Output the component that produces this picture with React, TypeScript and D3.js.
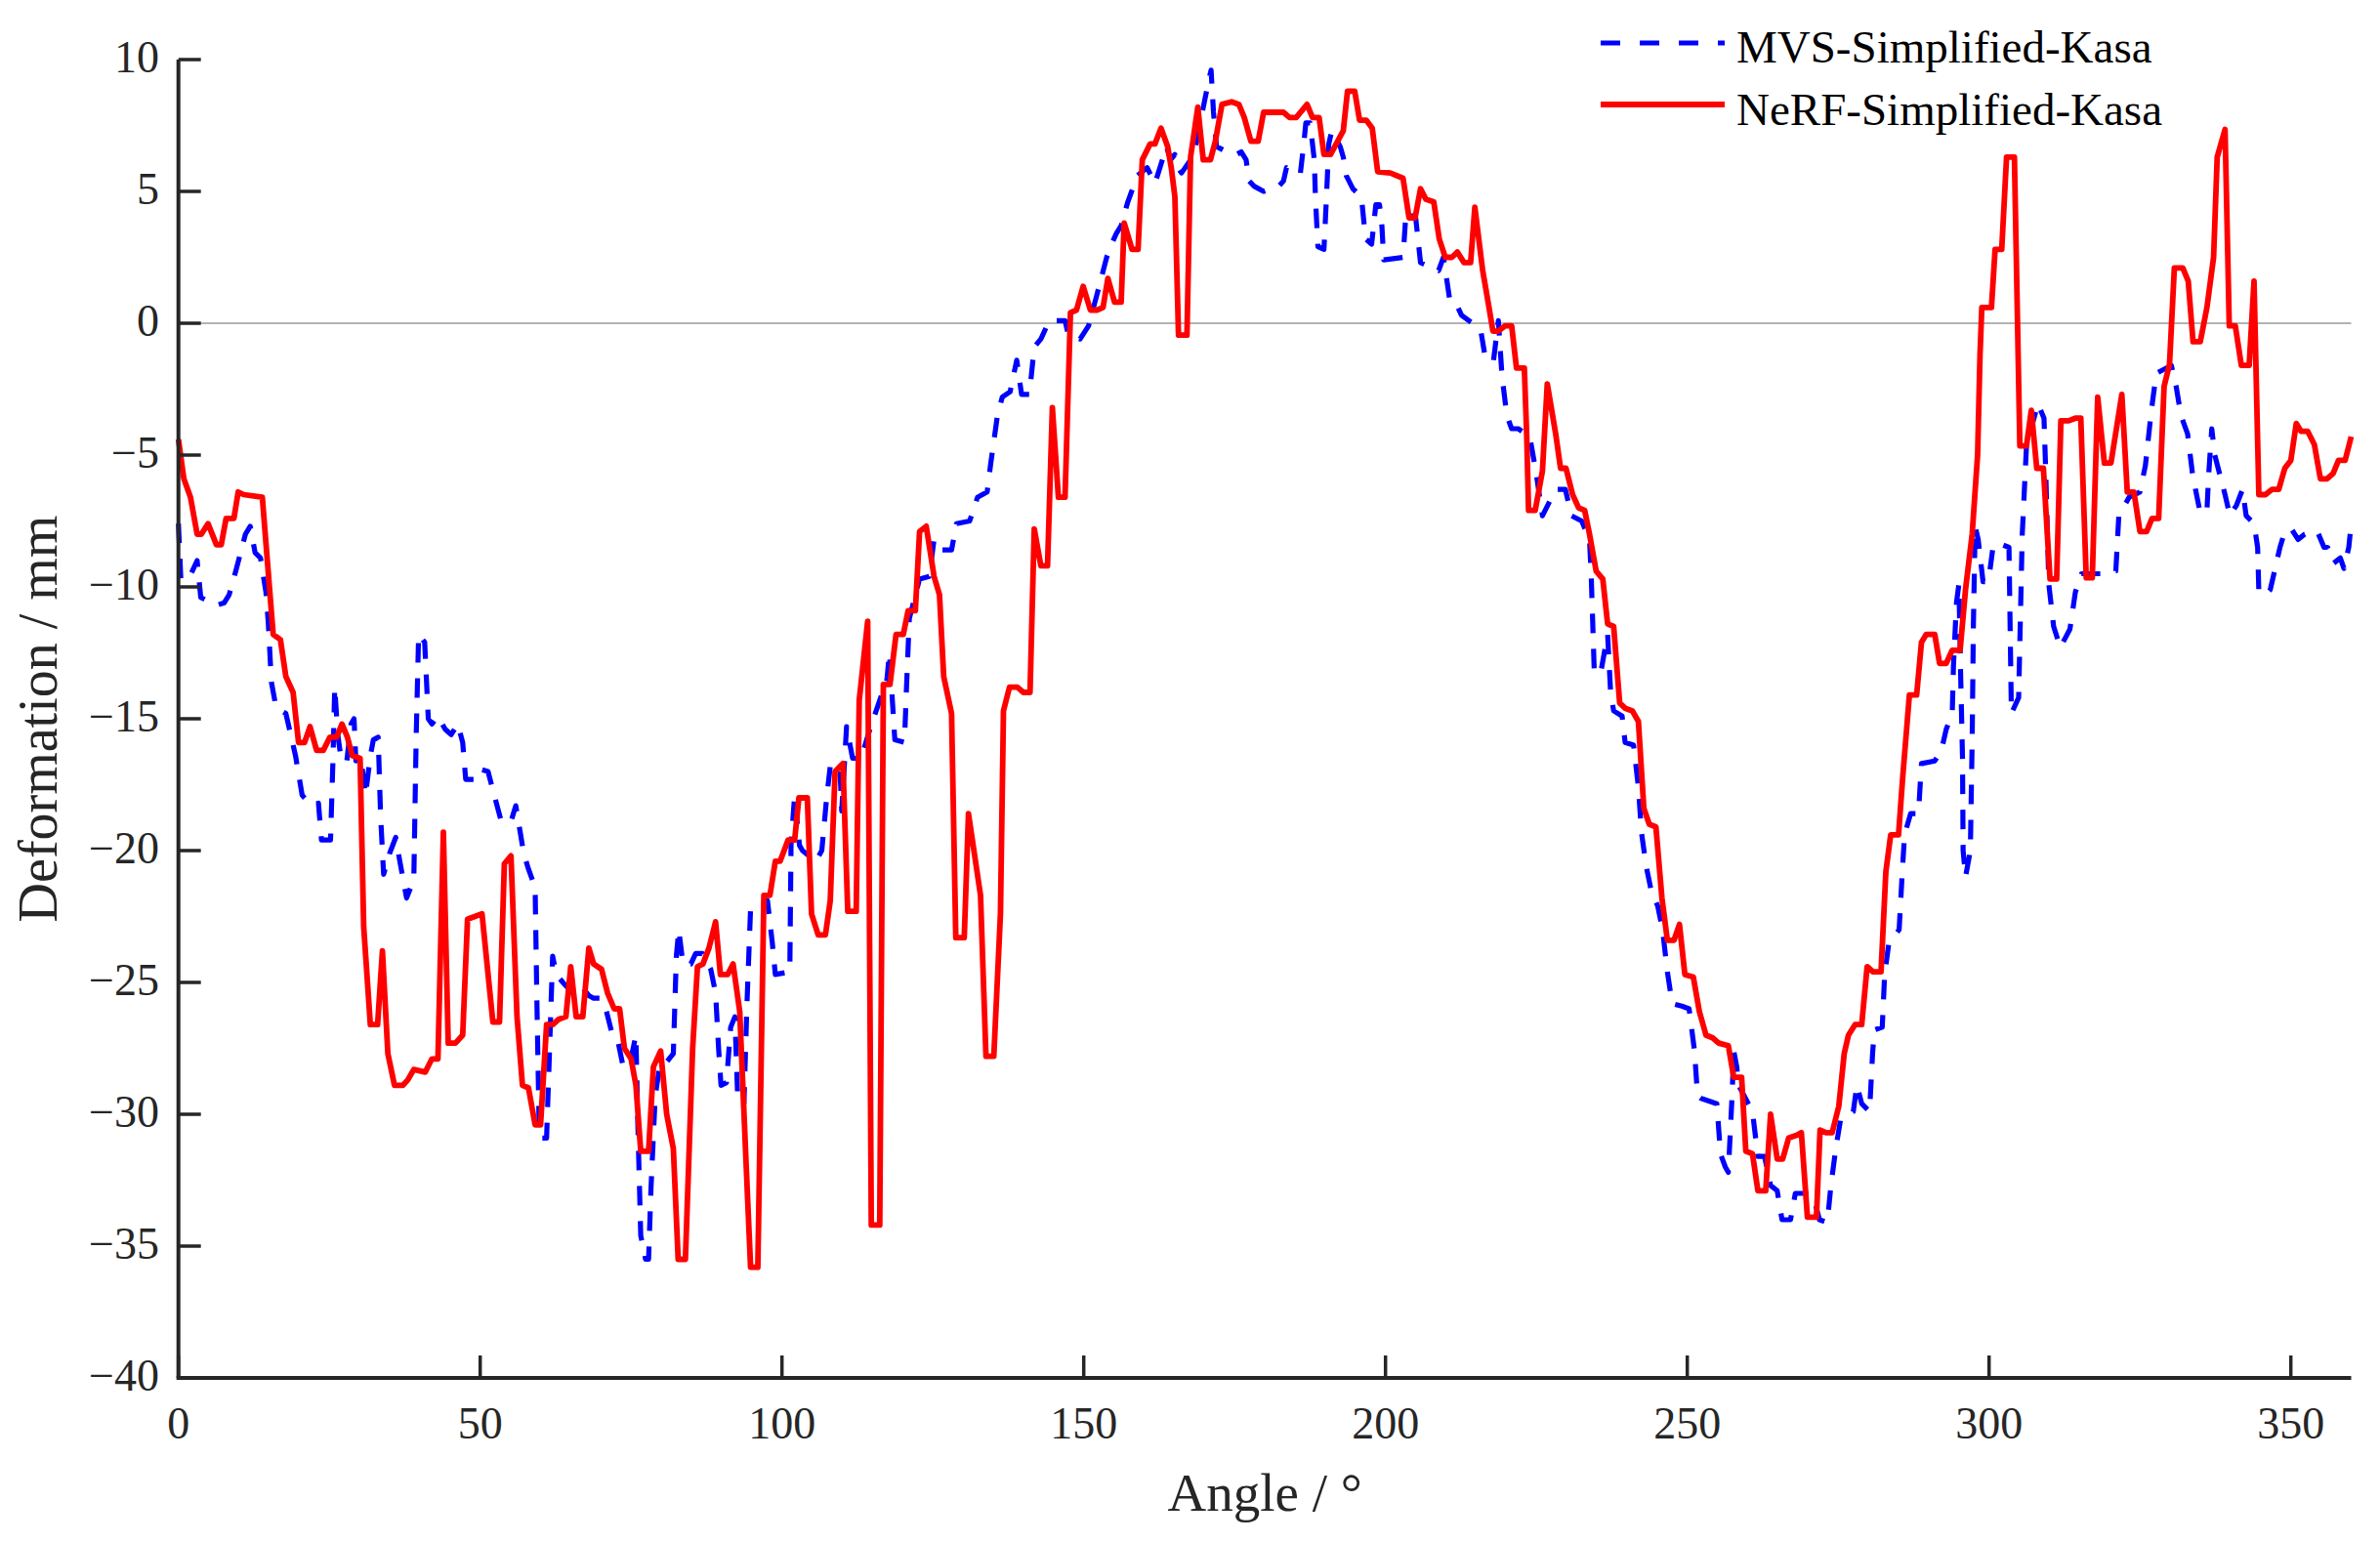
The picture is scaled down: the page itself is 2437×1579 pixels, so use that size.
import { useEffect } from 'react';
import * as d3 from 'd3';

type Pt = [number, number];

// MVS-Simplified-Kasa (blue, dashed): [angle, deformation]
const mvsSeries: Pt[] = [
  [0, -7.6], [0.4, -9.7], [1.7, -9.7], [3.1, -9.0], [3.7, -10.4], [6.3, -10.7], [7.6, -10.6], [8.4, -10.3],
  [9.5, -9.4], [10.3, -8.7], [11.1, -8.0], [11.9, -7.7], [12.7, -8.7], [13.6, -8.9], [14.5, -10.2], [14.9, -11.4],
  [15.4, -13.6], [16.2, -14.6], [17.8, -14.8], [18.6, -15.6], [19.4, -16.4], [20.5, -17.9], [22.1, -18.3], [23.2, -18.2],
  [23.7, -19.6], [25.2, -19.6], [25.6, -16.6], [25.9, -13.8], [26.4, -15.6], [27.0, -16.6], [27.9, -16.6], [28.6, -15.2],
  [29.1, -15.0], [29.4, -16.6], [30.2, -16.4], [31.0, -17.9], [31.8, -16.4], [32.3, -15.8], [33.1, -15.7], [33.5, -18.7],
  [34.0, -20.9], [35.0, -20.1], [36.0, -19.5], [36.6, -20.3], [37.8, -21.8], [39.0, -21.1], [39.4, -15.6], [39.8, -11.8],
  [40.8, -12.1], [41.4, -15.0], [42.0, -15.2], [43.0, -14.9], [44.2, -15.4], [45.2, -15.6], [46.3, -15.2], [47.1, -15.9],
  [47.6, -17.3], [49.0, -17.3], [49.8, -16.9], [51.3, -17.0], [52.1, -17.7], [53.5, -18.9], [55.1, -18.9], [55.9, -18.3],
  [56.7, -19.4], [57.2, -20.1], [58.0, -20.7], [59.1, -21.4], [59.4, -25.8], [59.8, -30.9], [61.0, -30.9], [61.5, -27.5],
  [62.0, -24.0], [62.6, -24.7], [63.7, -25.0], [65.3, -25.4], [66.6, -25.1], [68.0, -25.5], [68.8, -25.6], [69.9, -25.6],
  [70.7, -25.9], [71.8, -26.9], [72.8, -27.2], [73.6, -28.1], [74.7, -28.2], [75.8, -27.0], [76.1, -30.2], [76.6, -34.6],
  [77.4, -35.5], [77.9, -35.5], [78.3, -32.8], [79.0, -29.3], [79.8, -28.1], [80.6, -28.1], [82.0, -27.7], [82.5, -24.0],
  [82.9, -23.0], [83.6, -24.3], [84.9, -24.3], [85.7, -23.9], [86.8, -23.9], [88.2, -24.5], [89.0, -25.4], [89.5, -27.5],
  [89.9, -28.9], [90.8, -28.8], [91.5, -26.7], [92.2, -26.3], [92.7, -29.6], [93.7, -29.6], [94.2, -25.8], [94.8, -22.2],
  [96.5, -22.1], [97.6, -21.9], [98.4, -23.5], [98.9, -24.7], [101.3, -24.6], [101.5, -19.8], [102.1, -17.9], [102.9, -19.8],
  [103.4, -20.0], [105.6, -20.4], [106.6, -20.0], [107.4, -18.0], [108.0, -16.8], [109.6, -16.8], [109.9, -18.5], [110.7, -15.3],
  [111.7, -16.5], [113.1, -16.5], [114.7, -15.3], [117.4, -13.5], [117.8, -12.5], [118.7, -15.8], [120.3, -15.9], [120.6, -14.0],
  [121.1, -11.2], [122.8, -9.7], [124.4, -9.6], [125.2, -8.2], [126.5, -8.6], [128.1, -8.6], [128.9, -7.6], [131.1, -7.5],
  [132.4, -6.6], [134.0, -6.4], [134.6, -5.3], [135.7, -3.5], [136.5, -2.8], [137.8, -2.6], [138.9, -1.4], [139.7, -2.7],
  [141.0, -2.7], [141.8, -0.9], [142.9, -0.6], [144.3, 0.1], [146.9, 0.1], [147.5, -0.5], [149.4, -0.6], [150.8, -0.1],
  [152.2, 1.1], [153.0, 1.8], [153.8, 2.5], [154.6, 3.0], [155.4, 3.4], [156.2, 3.7], [157.3, 4.6], [158.1, 5.1],
  [158.9, 5.6], [160.5, 5.9], [161.8, 5.3], [162.9, 6.1], [163.7, 6.7], [164.4, 6.2], [165.1, 6.4], [165.6, 5.9],
  [166.2, 5.7], [167.7, 6.2], [168.7, 6.9], [169.9, 8.3], [170.7, 9.2], [171.1, 9.6], [171.5, 8.0], [172.0, 6.7],
  [173.7, 6.5], [175.3, 6.4], [176.1, 6.5], [176.9, 6.2], [177.4, 5.4], [178.2, 5.2], [179.8, 5.0], [180.9, 5.1],
  [182.3, 5.2], [183.1, 5.4], [183.6, 5.9], [184.7, 5.7], [185.9, 5.7], [186.5, 6.9], [186.8, 7.6], [187.5, 7.6],
  [188.2, 6.2], [188.4, 4.7], [188.8, 2.9], [189.8, 2.8], [190.2, 4.7], [190.6, 6.8], [191.1, 7.3], [192.5, 6.7],
  [193.0, 6.3], [193.5, 5.6], [194.6, 5.1], [196.0, 4.8], [196.7, 3.2], [197.7, 3.0], [198.4, 4.5], [199.0, 4.5],
  [199.4, 3.7], [199.7, 2.4], [202.9, 2.5], [203.4, 4.2], [205.0, 4.0], [205.8, 2.3], [208.8, 2.0], [209.6, 2.5],
  [210.7, 0.8], [211.8, 0.7], [212.6, 0.3], [215.0, -0.1], [215.8, -0.3], [216.6, -1.4], [217.9, -1.4], [218.7, 0.1],
  [219.3, -2.0], [220.1, -3.5], [220.9, -4.0], [222.0, -4.0], [223.9, -4.3], [224.9, -5.6], [226.0, -7.3], [227.1, -6.8],
  [228.2, -6.3], [229.8, -6.3], [230.8, -7.3], [232.5, -7.5], [233.8, -8.2], [234.1, -9.7], [234.6, -13.3], [235.7, -13.2],
  [236.8, -11.8], [237.3, -14.0], [237.8, -14.7], [239.2, -14.9], [239.7, -15.9], [241.1, -16.0], [241.9, -17.6], [242.4, -19.3],
  [243.2, -20.6], [244.0, -21.5], [245.1, -22.1], [245.9, -23.0], [246.7, -24.6], [247.5, -25.8], [249.1, -25.9], [250.3, -26.0],
  [251.2, -27.6], [251.7, -29.3], [252.3, -29.4], [254.9, -29.6], [255.5, -31.5], [256.3, -32.0], [256.8, -32.2], [257.4, -29.4],
  [257.7, -27.6], [258.2, -28.2], [258.5, -28.9], [260.8, -29.9], [261.7, -31.6], [262.8, -31.6], [263.8, -32.7], [264.9, -32.9],
  [265.4, -33.6], [265.7, -34.0], [267.1, -34.0], [267.9, -33.0], [270.3, -33.0], [271.1, -33.3], [271.9, -34.0], [273.2, -34.1],
  [273.8, -32.7], [274.6, -31.3], [275.4, -30.2], [276.5, -30.1], [277.5, -29.9], [278.1, -28.9], [278.9, -29.6], [280.2, -29.9],
  [280.7, -27.7], [281.0, -26.8], [282.3, -26.7], [282.7, -24.7], [283.4, -23.5], [285.1, -23.0], [285.6, -20.9], [286.0, -19.4],
  [287.0, -18.6], [288.3, -18.6], [288.8, -16.7], [291.0, -16.6], [292.1, -16.2], [292.9, -15.4], [293.9, -14.8], [294.1, -13.0],
  [294.6, -10.6], [295.0, -9.9], [295.3, -13.4], [295.6, -16.5], [295.7, -20.0], [296.1, -21.0], [296.9, -20.0], [297.2, -15.8],
  [297.4, -11.5], [297.7, -7.7], [298.2, -8.2], [299.0, -9.8], [299.9, -9.8], [300.7, -8.4], [302.2, -8.4], [303.3, -8.5],
  [303.7, -14.8], [304.9, -14.2], [305.5, -8.0], [306.2, -4.65], [308.1, -3.05], [309.1, -3.6], [309.4, -5.7], [309.9, -9.9],
  [310.7, -11.5], [311.8, -12.3], [313.4, -11.6], [314.3, -10.2], [315.3, -9.5], [318.8, -9.5], [321.0, -9.4], [321.5, -7.3],
  [323.2, -6.6], [325.0, -6.4], [325.9, -5.4], [326.9, -3.3], [327.7, -1.9], [330.2, -1.6], [331.0, -2.4], [331.8, -3.5],
  [332.9, -4.2], [333.7, -5.7], [334.2, -6.3], [335.0, -7.2], [336.1, -7.1], [336.4, -5.7], [336.9, -4.0], [337.4, -5.0],
  [338.3, -5.8], [339.1, -6.5], [339.9, -7.3], [341.0, -6.9], [342.0, -6.3], [342.6, -7.3], [343.9, -7.6], [344.5, -8.5],
  [344.7, -10.2], [345.8, -10.3], [346.6, -10.1], [347.4, -9.3], [348.2, -8.5], [349.0, -7.9], [350.1, -7.8], [351.2, -8.2],
  [352.3, -8.0], [353.6, -7.9], [354.4, -7.9], [355.5, -8.5], [356.1, -8.5], [357.1, -9.1], [358.2, -8.9], [358.8, -9.3],
  [359.6, -8.5], [360.0, -7.6],
];

// NeRF-Simplified-Kasa (red, solid): [angle, deformation]
const nerfSeries: Pt[] = [
  [0, -4.4], [0.9, -5.9], [2.0, -6.6], [3.1, -8.0], [3.8, -8.0], [4.9, -7.6], [6.3, -8.4], [7.1, -8.4],
  [7.9, -7.4], [9.2, -7.4], [9.9, -6.4], [10.8, -6.5], [13.9, -6.6], [15.7, -11.8], [16.9, -12.0], [17.8, -13.4],
  [19.0, -14.0], [19.9, -15.9], [20.9, -15.9], [21.8, -15.3], [22.9, -16.2], [24.0, -16.2], [25.1, -15.7], [26.2, -15.7],
  [27.1, -15.2], [28.0, -15.7], [28.8, -16.4], [30.1, -16.5], [30.7, -22.9], [31.8, -26.6], [33.0, -26.6], [33.8, -23.8],
  [34.7, -27.7], [35.8, -28.9], [37.2, -28.9], [38.0, -28.7], [39.0, -28.3], [40.9, -28.4], [42.0, -27.9], [43.0, -27.9],
  [43.9, -19.3], [44.7, -27.3], [45.9, -27.3], [47.1, -27.0], [47.9, -22.6], [50.3, -22.4], [52.1, -26.5], [53.2, -26.5],
  [54.0, -20.5], [55.1, -20.2], [56.1, -26.3], [57.0, -28.9], [58.0, -29.0], [59.1, -30.4], [60.0, -30.4], [61.0, -26.6],
  [62.0, -26.6], [63.0, -26.4], [64.2, -26.3], [65.0, -24.4], [65.9, -26.3], [67.0, -26.3], [68.0, -23.7], [68.8, -24.3],
  [70.1, -24.5], [71.1, -25.4], [72.2, -26.0], [73.1, -26.0], [73.9, -27.5], [75.0, -27.9], [75.8, -28.9], [76.6, -31.4],
  [77.9, -31.4], [78.7, -28.2], [79.9, -27.6], [80.9, -30.0], [82.0, -31.3], [82.8, -35.5], [84.0, -35.5], [85.2, -27.5],
  [86.0, -24.4], [86.9, -24.3], [87.9, -23.7], [89.0, -22.7], [89.8, -24.7], [91.0, -24.7], [91.9, -24.3], [93.0, -26.1],
  [94.1, -32.1], [94.8, -35.8], [96.0, -35.8], [97.0, -21.7], [98.0, -21.7], [98.9, -20.4], [99.7, -20.4], [101.0, -19.6],
  [102.1, -19.6], [102.8, -18.0], [104.2, -18.0], [104.9, -22.4], [106.0, -23.2], [107.2, -23.2], [108.0, -21.9], [108.8, -17.0],
  [110.1, -16.7], [110.9, -22.3], [112.3, -22.3], [112.8, -14.3], [114.2, -11.3], [114.8, -34.2], [116.2, -34.2], [116.8, -13.7],
  [117.9, -13.7], [118.9, -11.8], [120.1, -11.8], [120.9, -10.9], [122.1, -10.9], [122.8, -7.9], [123.9, -7.7], [125.2, -9.6],
  [126.1, -10.3], [126.8, -13.4], [128.1, -14.8], [128.8, -23.3], [130.2, -23.3], [130.9, -18.6], [132.9, -21.7], [133.8, -27.8],
  [135.1, -27.8], [136.2, -22.4], [136.7, -14.7], [137.7, -13.8], [139.0, -13.8], [140.0, -14.0], [141.1, -14.0], [141.8, -7.8],
  [142.9, -9.2], [144.0, -9.2], [144.8, -3.2], [145.8, -6.6], [146.9, -6.6], [147.8, 0.4], [148.8, 0.5], [149.9, 1.4],
  [151.1, 0.5], [152.2, 0.5], [153.2, 0.6], [154.0, 1.7], [155.1, 0.8], [156.2, 0.8], [156.7, 3.8], [158.0, 2.8],
  [159.0, 2.8], [159.7, 6.2], [161.0, 6.8], [161.8, 6.8], [162.8, 7.4], [163.9, 6.7], [164.5, 5.9], [165.1, 4.8],
  [165.7, -0.45], [167.1, -0.45], [167.7, 6.3], [168.9, 8.2], [169.8, 6.2], [171.0, 6.2], [171.8, 6.9], [172.9, 8.3],
  [174.5, 8.4], [175.7, 8.3], [176.6, 7.8], [177.7, 6.9], [178.9, 6.9], [179.8, 8.0], [183.1, 8.0], [184.1, 7.8],
  [185.2, 7.8], [187.0, 8.3], [187.9, 7.8], [189.0, 7.8], [189.8, 6.4], [190.9, 6.4], [193.0, 7.3], [193.7, 8.8],
  [194.9, 8.8], [195.7, 7.7], [196.8, 7.7], [197.8, 7.4], [198.7, 5.75], [200.8, 5.7], [202.9, 5.5], [203.9, 4.0],
  [204.9, 4.0], [205.8, 5.1], [206.7, 4.7], [208.0, 4.6], [208.9, 3.2], [209.9, 2.5], [211.0, 2.5], [211.9, 2.7],
  [213.0, 2.3], [214.1, 2.3], [214.8, 4.4], [216.1, 2.0], [217.0, 0.8], [217.8, -0.3], [218.7, -0.3], [219.8, -0.1],
  [220.9, -0.1], [221.7, -1.7], [223.0, -1.7], [223.4, -4.3], [223.7, -7.1], [224.8, -7.1], [226.0, -5.6], [226.8, -2.3],
  [228.2, -4.2], [229.0, -5.5], [229.9, -5.5], [231.0, -6.5], [232.0, -7.0], [233.0, -7.1], [233.8, -8.0], [234.9, -9.4],
  [236.0, -9.7], [236.8, -11.4], [237.8, -11.5], [238.8, -14.4], [239.7, -14.6], [240.9, -14.7], [241.9, -15.1], [242.8, -18.4],
  [243.7, -19.0], [244.8, -19.1], [245.8, -21.8], [246.7, -23.4], [247.8, -23.4], [248.7, -22.8], [249.6, -24.7], [251.0, -24.8],
  [252.0, -26.1], [253.1, -27.0], [254.2, -27.1], [255.2, -27.3], [256.8, -27.4], [257.7, -28.6], [259.0, -28.6], [259.7, -31.4],
  [260.8, -31.5], [261.7, -32.9], [263.0, -32.9], [263.8, -30.0], [264.9, -31.7], [265.8, -31.7], [266.8, -30.9], [268.1, -30.8],
  [268.9, -30.7], [269.9, -33.9], [271.4, -33.9], [272.0, -30.6], [273.0, -30.7], [274.0, -30.7], [275.1, -29.7], [276.0, -27.7],
  [276.7, -27.0], [277.8, -26.6], [278.9, -26.6], [279.8, -24.4], [280.8, -24.6], [282.1, -24.6], [282.9, -20.8], [283.7, -19.4],
  [285.0, -19.4], [285.7, -17.2], [286.8, -14.1], [288.0, -14.1], [288.8, -12.1], [289.6, -11.8], [291.0, -11.8], [291.8, -12.9],
  [292.9, -12.9], [293.9, -12.4], [295.2, -12.4], [296.1, -10.1], [297.2, -8.0], [298.1, -5.0], [298.5, -1.2], [298.8, 0.6],
  [300.4, 0.6], [301.0, 2.8], [302.1, 2.8], [302.9, 6.3], [304.2, 6.3], [305.1, -4.65], [306.2, -4.65], [307.0, -3.3],
  [307.9, -5.5], [309.0, -5.5], [310.1, -9.7], [311.2, -9.7], [311.9, -3.7], [313.2, -3.7], [314.3, -3.6], [315.2, -3.6],
  [316.1, -9.65], [317.1, -9.65], [318.0, -2.8], [319.1, -5.3], [320.2, -5.3], [322.0, -2.7], [322.9, -6.4], [324.0, -6.4],
  [325.0, -7.9], [326.1, -7.9], [327.0, -7.4], [328.1, -7.4], [329.0, -2.4], [329.9, -1.55], [330.7, 2.1], [332.1, 2.1],
  [333.0, 1.6], [333.8, -0.7], [335.0, -0.7], [336.1, 0.6], [337.2, 2.5], [337.8, 6.3], [339.1, 7.35], [339.8, -0.1],
  [340.8, -0.1], [341.8, -1.6], [343.1, -1.6], [343.9, 1.6], [344.7, -6.5], [345.8, -6.5], [346.9, -6.3], [348.0, -6.3],
  [349.0, -5.5], [350.0, -5.2], [350.9, -3.8], [351.7, -4.1], [352.8, -4.1], [353.9, -4.6], [354.9, -5.9], [356.0, -5.9],
  [357.0, -5.7], [357.9, -5.2], [359.0, -5.2], [360.0, -4.3],
];

const xTicks = [0, 50, 100, 150, 200, 250, 300, 350];
const yTicks = [-40, -35, -30, -25, -20, -15, -10, -5, 0, 5, 10];
const legendLabels = ['MVS-Simplified-Kasa', 'NeRF-Simplified-Kasa'];

const W = 2437;
const H = 1579;
const FONT = "'Liberation Serif', 'Times New Roman', serif";
const AXIS = '#262626';

const fmt = (v: number) => (v < 0 ? `\u2212${Math.abs(v)}` : `${v}`);

export default function App() {
  useEffect(() => {
    document.body.style.margin = '0';
    document.body.style.background = '#fff';
  }, []);

  const x = d3.scaleLinear().domain([0, 360]).range([182.7, 2407.5]);
  const y = d3.scaleLinear().domain([-40, 10]).range([1411, 61]);

  const line = d3
    .line<Pt>()
    .x((d) => x(d[0]))
    .y((d) => y(d[1]));

  const [x0, x1] = x.range();
  const yBottom = y(-40);
  const yTop = y(10);
  const tickLen = 23;

  const legendX0 = 1639;
  const legendX1 = 1766;
  const legendY = [44, 107];

  return (
    <div style={{ position: 'absolute', left: 0, top: 0, background: '#fff' }}>
      <svg width={W} height={H} style={{ display: 'block' }} fontFamily={FONT}>
        <rect width={W} height={H} fill="#fff" />

        {/* zero reference */}
        <line x1={x0} x2={x1} y1={y(0)} y2={y(0)} stroke="#b3b3b3" strokeWidth={2} />

        {/* series */}
        <path
          d={line(mvsSeries) ?? ''}
          fill="none"
          stroke="#0000ff"
          strokeWidth={5.2}
          strokeDasharray="20 16"
          strokeLinejoin="round"
        />
        <path
          d={line(nerfSeries) ?? ''}
          fill="none"
          stroke="#ff0000"
          strokeWidth={5.8}
          strokeLinejoin="round"
        />

        {/* axes */}
        <line x1={x0} x2={x0} y1={yTop} y2={yBottom} stroke={AXIS} strokeWidth={4} />
        <line x1={x0 - 2} x2={x1} y1={yBottom} y2={yBottom} stroke={AXIS} strokeWidth={4} />

        {yTicks.map((t) => (
          <g key={`y${t}`}>
            <line x1={x0} x2={x0 + tickLen} y1={y(t)} y2={y(t)} stroke={AXIS} strokeWidth={3.5} />
            <text x={163} y={y(t) + 13} textAnchor="end" fontSize={46} fill={AXIS}>
              {fmt(t)}
            </text>
          </g>
        ))}

        {xTicks.map((t) => (
          <g key={`x${t}`}>
            <line x1={x(t)} x2={x(t)} y1={yBottom} y2={yBottom - tickLen} stroke={AXIS} strokeWidth={3.5} />
            <text x={x(t)} y={1473} textAnchor="middle" fontSize={46} fill={AXIS}>
              {fmt(t)}
            </text>
          </g>
        ))}

        {/* axis titles */}
        <text x={(x0 + x1) / 2} y={1547} textAnchor="middle" fontSize={55} fill={AXIS}>
          Angle / °
        </text>
        <text
          transform={`translate(58,${(yTop + yBottom) / 2}) rotate(-90)`}
          textAnchor="middle"
          fontSize={56}
          fill={AXIS}
        >
          Deformation / mm
        </text>

        {/* legend */}
        <line
          x1={legendX0}
          x2={legendX1}
          y1={legendY[0]}
          y2={legendY[0]}
          stroke="#0000ff"
          strokeWidth={5.2}
          strokeDasharray="20 20"
        />
        <line x1={legendX0} x2={legendX1} y1={legendY[1]} y2={legendY[1]} stroke="#ff0000" strokeWidth={5.8} />
        {legendLabels.map((label, i) => (
          <text key={label} x={1778} y={legendY[i] + 19.5 + i * 1.5} fontSize={47} fill="#000">
            {label}
          </text>
        ))}
      </svg>
    </div>
  );
}
